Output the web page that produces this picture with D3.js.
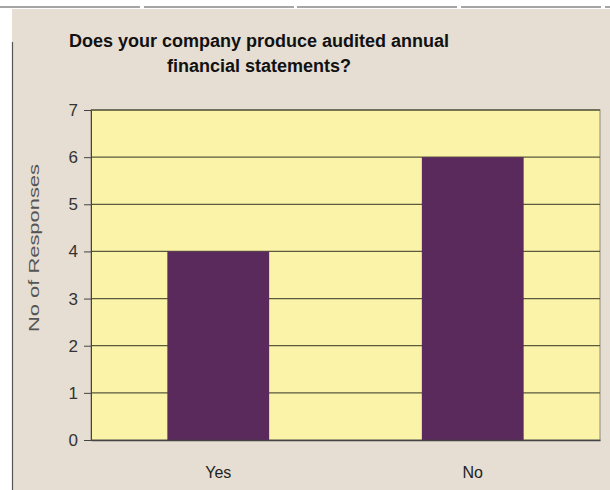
<!DOCTYPE html>
<html><head><meta charset="utf-8">
<script src="https://cdn.jsdelivr.net/npm/d3@7"></script>
<style>body{margin:0;background:#fff}svg{display:block}</style>
</head><body>
<script>
const categories = ["Yes", "No"];
const values = [4, 6];
const yTicks = [0, 1, 2, 3, 4, 5, 6, 7];
const titleLines = ["Does your company produce audited annual", "financial statements?"];
const yLabel = "No of Responses";

const W = 610, H = 490;
const FONT = "Arial, 'Liberation Sans', sans-serif";
const svg = d3.select("body").append("svg").attr("width", W).attr("height", H);
svg.append("rect").attr("x", 0).attr("y", 0).attr("width", W).attr("height", H).attr("fill", "#fff");
svg.append("rect").attr("x", 12).attr("y", 9).attr("width", W - 12).attr("height", H - 9).attr("fill", "#e6ded2");
svg.append("line").attr("x1", 0).attr("x2", W).attr("y1", 7).attr("y2", 7)
  .attr("stroke", "#888").attr("stroke-width", 1.5).attr("stroke-dasharray", "140,4,150,3,160,4");
svg.append("line").attr("x1", 12.5).attr("x2", 12.5).attr("y1", 42).attr("y2", H)
  .attr("stroke", "#555").attr("stroke-width", 1.2);

const m = {left: 91, right: 600, top: 110, bottom: 440};
const x = d3.scaleBand().domain(categories).range([m.left, m.right]).paddingInner(0.6).paddingOuter(0.3);
const y = d3.scaleLinear().domain([0, 7]).range([m.bottom, m.top]);

svg.append("rect").attr("x", m.left).attr("y", m.top).attr("width", m.right - m.left).attr("height", m.bottom - m.top)
  .attr("fill", "#fbf3a8").attr("stroke", "#8a8a7a").attr("stroke-width", 1);

const g = svg.append("g");
g.selectAll(".grid").data(yTicks.filter(d => d > 0)).join("line")
  .attr("x1", m.left).attr("x2", m.right)
  .attr("y1", d => y(d)).attr("y2", d => y(d))
  .attr("stroke", "#5b5a3c").attr("stroke-width", 1.3);

g.selectAll(".bar").data(values).join("rect")
  .attr("x", (d, i) => x(categories[i])).attr("width", x.bandwidth())
  .attr("y", d => y(d)).attr("height", d => y(0) - y(d))
  .attr("fill", "#5a2a5c");

const yAxis = d3.axisLeft(y).tickValues(yTicks).tickSize(7).tickPadding(6).tickFormat(d3.format("d"));
const ya = svg.append("g").attr("transform", `translate(${m.left},0)`).call(yAxis);
ya.attr("font-size", null).attr("font-family", null);
ya.select(".domain").attr("stroke", "#444");
ya.selectAll(".tick line").attr("stroke", "#444");
ya.selectAll("text").style("font-family", FONT).style("font-size", "17px").attr("fill", "#333");

const xAxis = d3.axisBottom(x).tickSize(0).tickPadding(27);
const xa = svg.append("g").attr("transform", `translate(0,${m.bottom})`).call(xAxis);
xa.attr("font-size", null).attr("font-family", null);
xa.select(".domain").attr("stroke", "#444").attr("stroke-width", 1.3);
xa.selectAll("text").style("font-family", FONT).style("font-size", "16px").attr("fill", "#222");

svg.append("text").attr("transform", `translate(39,248) rotate(-90)`)
  .attr("text-anchor", "middle").style("font-family", FONT)
  .style("font-size", "15px").attr("fill", "#555")
  .attr("textLength", 168).attr("lengthAdjust", "spacingAndGlyphs").text(yLabel);

svg.selectAll(".title").data(titleLines).join("text")
  .attr("x", 259).attr("y", (d, i) => 47 + i * 25)
  .attr("text-anchor", "middle").style("font-family", FONT)
  .style("font-weight", "bold").style("font-size", "18px").attr("fill", "#111").text(d => d);
</script>
</body></html>
